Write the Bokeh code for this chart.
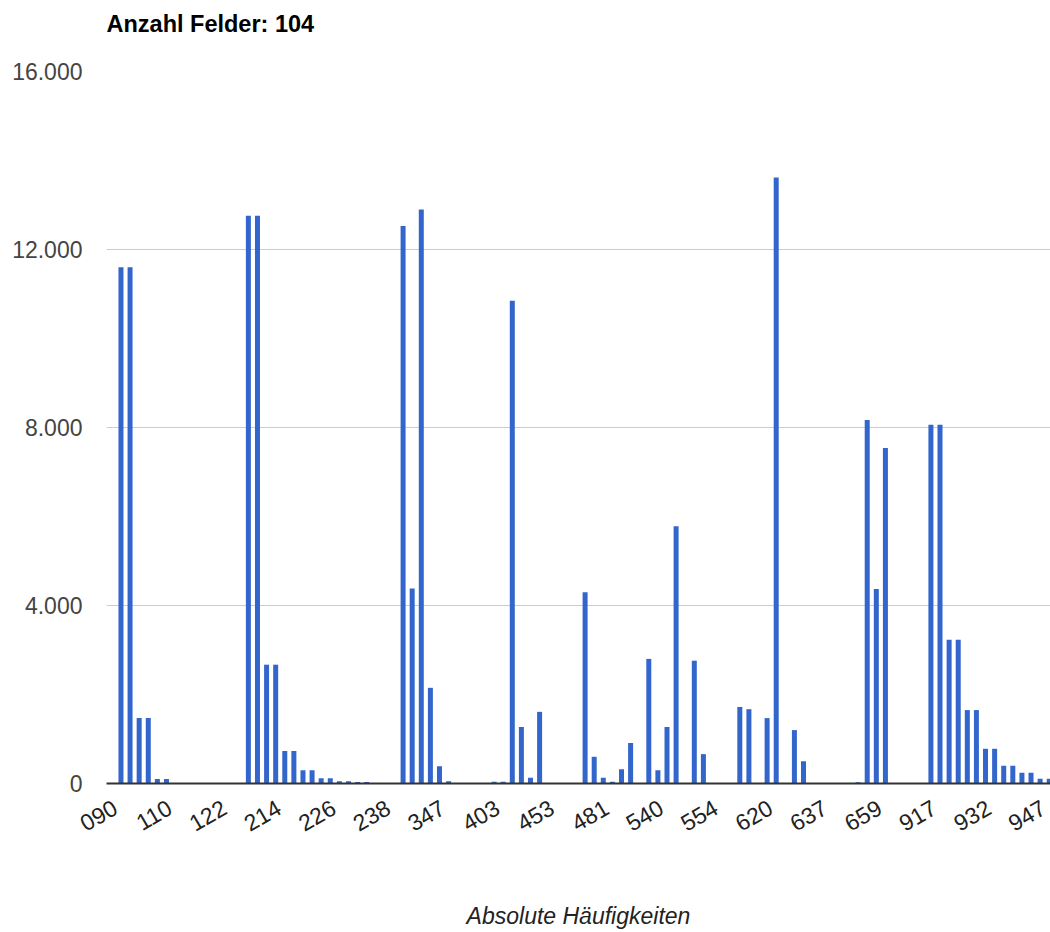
import math
from bokeh.plotting import figure
from bokeh.models import Range1d, FixedTicker, ColumnDataSource, Title, LinearAxis
from bokeh.embed import file_html
from bokeh.resources import INLINE

# ---- data ----
title_text = "Anzahl Felder: 104"
x_title = "Absolute Häufigkeiten"
tick_labels = ["090", "110", "122", "214", "226", "238", "347", "403", "453",
               "481", "540", "554", "620", "637", "659", "917", "932", "947"]
label_step = 6
counts = [
    11600, 11600, 1470, 1470, 100, 100,
    0, 0, 0, 0, 0, 0, 0, 0,
    12760, 12760, 2670, 2670, 730, 730, 300, 300, 120, 120, 50, 50, 35, 35,
    0, 0, 0,
    12530, 4380, 12900, 2150, 390, 50,
    0, 0, 0, 0,
    40, 40, 10850, 1270, 130, 1610,
    0, 0, 0, 0,
    4300, 600, 130, 40, 320, 910,
    0,
    2800, 300, 1270, 5780,
    0,
    2760, 660,
    0, 0, 0,
    1720, 1670,
    0,
    1470, 13620,
    0,
    1200, 500,
    0, 0, 0, 0, 0,
    30, 8170, 4370, 7540,
    0, 0, 0, 0,
    8060, 8060, 3230, 3230, 1650, 1650, 780, 780, 400, 400, 240, 240, 105, 105,
]
y_ticks = [0, 4000, 8000, 12000, 16000]
y_tick_text = ["0", "4.000", "8.000", "12.000", "16.000"]

FONT = "Liberation Sans"

idx = list(range(len(counts)))
src = ColumnDataSource(dict(x=idx, count=counts))

p = figure(width=1050, height=932, title=None,
           x_range=Range1d(-1.59, 102.14), y_range=Range1d(0, 16000),
           output_backend="svg", toolbar_location=None,
           min_border_left=106, min_border_right=0,
           min_border_top=71, min_border_bottom=149)

p.vbar(x="x", top="count", width=0.55, source=src,
       fill_color="#3366CC", line_color=None)

# invisible spacer between frame and title: an axis above with one hidden tick
spacer_tick = 50
spacer = LinearAxis(ticker=FixedTicker(ticks=[spacer_tick]), axis_line_color=None,
                    major_tick_line_color=None, minor_tick_line_color=None,
                    major_tick_out=35, major_tick_in=0, minor_tick_out=0,
                    major_label_standoff=0, major_label_text_font_size="0px",
                    major_label_overrides={spacer_tick: ""})
p.add_layout(spacer, "above")
p.add_layout(Title(text=title_text, text_font=FONT, text_font_style="bold",
                   text_font_size="23.5px", text_color="#000000",
                   align="left", standoff=0), "above")

# x axis (below): labels sit so that their right end meets the bar position
label_shift = 0.65
xt = [i * label_step - label_shift for i in range(len(tick_labels))]
xa = p.below[0]
xa.ticker = FixedTicker(ticks=xt)
xa.major_label_overrides = {t: l for t, l in zip(xt, tick_labels)}
xa.major_label_orientation = math.pi / 6
xa.major_label_text_font = FONT
xa.major_label_text_font_size = "23px"
xa.major_label_text_color = "#222222"
xa.major_label_standoff = 16
xa.major_tick_line_color = None
xa.minor_tick_line_color = None
xa.axis_line_color = "#333333"
xa.axis_line_width = 2
xa.axis_label = x_title
xa.axis_label_text_font = FONT
xa.axis_label_text_font_style = "italic"
xa.axis_label_text_font_size = "23px"
xa.axis_label_text_line_height = 1.0
xa.axis_label_text_color = "#222222"
xa.axis_label_standoff = 61

# y axis
ya = p.left[0]
ya.ticker = FixedTicker(ticks=y_ticks)
ya.major_label_overrides = {t: l for t, l in zip(y_ticks, y_tick_text)}
ya.major_label_text_font = FONT
ya.major_label_text_font_size = "23px"
ya.major_label_text_color = "#444444"
ya.major_label_standoff = 18
ya.major_tick_line_color = None
ya.minor_tick_line_color = None
ya.axis_line_color = None

p.xgrid.grid_line_color = None
p.ygrid.grid_line_color = "#cccccc"
p.ygrid.grid_line_width = 1
p.outline_line_color = None
p.background_fill_color = "#ffffff"
p.border_fill_color = "#ffffff"

open("out.html", "w").write(file_html(p, INLINE))
